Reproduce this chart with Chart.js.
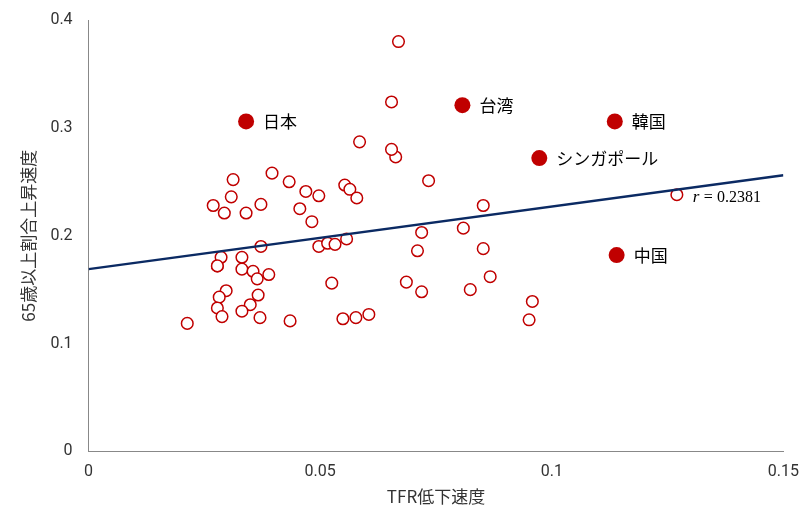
<!DOCTYPE html>
<html><head><meta charset="utf-8">
<script src="https://cdn.jsdelivr.net/npm/chart.js@4/dist/chart.umd.min.js"></script>
<style>html,body{margin:0;padding:0;background:#fff}#w{width:802px;height:515px}</style>
</head><body><div id="w"><canvas id="c"></canvas></div>
<script>
const otherX=[0.0213,0.0269,0.0278,0.0286,0.0312,0.0308,0.0293,0.0340,0.0372,0.0396,0.0433,0.0469,0.0497,0.0553,0.0564,0.0579,0.0734,0.0663,0.0456,0.0482,0.0372,0.0497,0.0516,0.0532,0.0557,0.0719,0.0710,0.0331,0.0278,0.0331,0.0355,0.0389,0.0364,0.0525,0.0686,0.0719,0.0297,0.0282,0.0366,0.0349,0.0278,0.0331,0.0288,0.0370,0.0435,0.0549,0.0577,0.0605,0.0669,0.0654,0.0585,0.0654,0.0809,0.0852,0.0852,0.0867,0.0824,0.0958,0.0951,0.1270];
const otherY=[0.1187,0.228,0.172,0.180,0.252,0.236,0.221,0.221,0.229,0.258,0.250,0.241,0.237,0.247,0.243,0.235,0.251,0.273,0.225,0.213,0.190,0.190,0.193,0.192,0.197,0.203,0.186,0.180,0.172,0.169,0.167,0.164,0.160,0.156,0.157,0.148,0.149,0.143,0.145,0.136,0.133,0.130,0.125,0.124,0.121,0.123,0.124,0.127,0.380,0.324,0.287,0.280,0.207,0.228,0.188,0.162,0.150,0.139,0.122,0.238];
const namedLabels=['日本','台湾','韓国','シンガポール','中国'];
const namedX=[0.034,0.0807,0.1136,0.0973,0.114];
const namedY=[0.306,0.321,0.306,0.272,0.182];
const lineX=[0,0.15];
const lineY=[0.169,0.256];
const xTicks=[0,0.05,0.1,0.15];
const yTicks=[0,0.1,0.2,0.3,0.4];
const rText='0.2381';
const red='#c00000';
const labelPlugin={id:'lbl',afterDatasetsDraw(ch){
  const c=ch.ctx,xs=ch.scales.x,ys=ch.scales.y;
  c.save();c.fillStyle='#000';c.font='17px "Noto Sans CJK JP"';c.textBaseline='middle';
  namedLabels.forEach((l,i)=>c.fillText(l,xs.getPixelForValue(namedX[i])+17,ys.getPixelForValue(namedY[i])));
  const px=xs.getPixelForValue(otherX[otherX.length-1])+18,py=ys.getPixelForValue(otherY[otherY.length-1])+3;
  c.font='italic 17px "Liberation Serif"';c.fillText('r',px-2,py);
  c.font='16px "Liberation Serif"';c.fillText(' = '+rText,px+5,py);
  c.restore();}};
new Chart(document.getElementById('c'),{
 type:'scatter',
 data:{datasets:[
  {data:lineX.map((x,i)=>({x,y:lineY[i]})),type:'line',borderColor:'#0b2a63',borderWidth:2.5,pointRadius:0,fill:false},
  {data:otherX.map((x,i)=>({x,y:otherY[i]})),pointRadius:5.8,pointBorderWidth:1.5,pointBorderColor:red,pointBackgroundColor:'#fff'},
  {data:namedX.map((x,i)=>({x,y:namedY[i]})),pointRadius:8,pointBorderWidth:0,pointBackgroundColor:red}
 ]},
 plugins:[labelPlugin],
 options:{responsive:true,maintainAspectRatio:false,animation:false,
  layout:{padding:{left:14,right:13,top:20,bottom:4}},
  plugins:{legend:{display:false},tooltip:{enabled:false}},
  scales:{
   x:{type:'linear',min:0,max:0.15,afterBuildTicks:a=>{a.ticks=xTicks.map(v=>({value:v}))},
      grid:{display:false,drawTicks:true},border:{color:'#888'},
      ticks:{color:'#333',font:{size:16,family:'Roboto'},callback:v=>String(v)},
      title:{display:true,text:'TFR低下速度',color:'#333',font:{size:17,family:'Noto Sans CJK JP'},padding:{top:2}}},
   y:{type:'linear',min:0,max:0.4,afterBuildTicks:a=>{a.ticks=yTicks.map(v=>({value:v}))},
      grid:{display:false},border:{color:'#888'},
      ticks:{color:'#333',font:{size:16,family:'Roboto'},padding:8,callback:v=>String(v)},
      title:{display:true,text:'65歳以上割合上昇速度',color:'#333',font:{size:17,family:'Noto Sans CJK JP'}}}
  }}
});
</script></body></html>
